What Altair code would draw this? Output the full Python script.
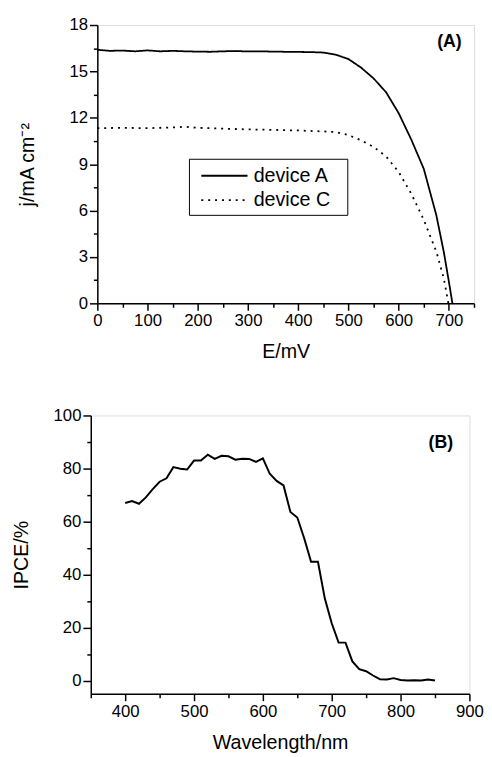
import altair as alt
import pandas as pd

FONT = "Liberation Sans"

# ---------- Panel A data ----------
E_A = [0, 25, 50, 75, 100, 125, 150, 175, 200, 225, 250, 275, 300, 325, 350, 375,
       400, 425, 450, 475, 500, 525, 550, 575, 600, 625, 650, 675, 690, 700, 707]
J_A = [16.40, 16.33, 16.35, 16.30, 16.36, 16.30, 16.33, 16.30, 16.28, 16.27, 16.30,
       16.32, 16.29, 16.30, 16.28, 16.27, 16.26, 16.25, 16.22, 16.08, 15.80, 15.25,
       14.55, 13.65, 12.30, 10.60, 8.70, 5.70, 3.30, 1.40, 0.0]

E_C = [0, 50, 100, 150, 175, 200, 250, 300, 350, 400, 450, 475, 500, 525, 550, 575,
       600, 625, 650, 675, 690, 699]
J_C = [11.33, 11.35, 11.33, 11.38, 11.42, 11.35, 11.30, 11.25, 11.22, 11.18, 11.12,
       11.08, 10.88, 10.55, 10.12, 9.50, 8.50, 7.10, 5.40, 3.35, 1.60, 0.0]

series_names = ["device A", "device C"]

# ---------- Panel B data ----------
wavelength = list(range(400, 851, 10))
ipce = [67.0, 67.7, 66.7, 69.1, 72.2, 75.0, 76.3, 80.5, 79.9, 79.6, 83.0, 83.0, 85.2,
        83.6, 84.8, 84.6, 83.3, 83.7, 83.6, 82.5, 83.8, 78.0, 75.3, 73.6, 63.6, 61.5,
        53.7, 44.8, 44.8, 30.9, 21.6, 14.3, 14.3, 7.2, 4.3, 3.5, 1.9, 0.5, 0.4, 0.9,
        0.2, 0.0, 0.1, 0.0, 0.4, 0.0]

# tick values
xA_ticks = list(range(0, 751, 50))
yA_ticks = [i * 1.5 for i in range(0, 13)]
xB_ticks = list(range(350, 901, 50))
yB_ticks = list(range(0, 101, 10))

panel_labels = ["(A)", "(B)"]

dfA = pd.DataFrame({
    "E": E_A + E_C,
    "j": J_A + J_C,
    "device": [series_names[0]] * len(E_A) + [series_names[1]] * len(E_C),
})
dfB = pd.DataFrame({"wl": wavelength, "ipce": ipce})


def cond_num(test, a, b):
    return {"condition": {"test": test, "value": a}, "value": b}


common_axis = dict(
    grid=False,
    labelFont=FONT, labelFontSize=17,
    titleFont=FONT, titleFontSize=20, titleFontWeight="normal", titleColor="black",
    domainColor="black", domainWidth=1.5, tickColor="black", tickWidth=1.5,
    labelOverlap=False, labelFlush=False,
)

# ---------- Panel A ----------
linesA = alt.Chart(dfA).mark_line(color="black", strokeWidth=1.8).encode(
    x=alt.X("E:Q", scale=alt.Scale(domain=[0, 750], nice=False, zero=False),
            axis=alt.Axis(title="E/mV", values=xA_ticks,
                          tickSize=cond_num("datum.value % 100 === 0", 7, 4),
                          labelExpr="datum.value % 100 === 0 ? datum.label : (datum.value === 750 ? 'r' : '')",
                          labelColor={"condition": {"test": "datum.value === 750", "value": "transparent"}, "value": "black"},
                          labelPadding=3, titlePadding=13, **common_axis)),
    y=alt.Y("j:Q", scale=alt.Scale(domain=[0, 18], nice=False),
            axis=alt.Axis(title="j/mA cm⁻²", values=yA_ticks,
                          tickSize=cond_num("datum.value % 3 === 0", 8, 4),
                          labelExpr="datum.value % 3 === 0 ? datum.label : ''",
                          labelColor="black",
                          labelPadding=2, titlePadding=31.5, **common_axis)),
    strokeDash=alt.StrokeDash(
        "device:N",
        scale=alt.Scale(domain=series_names, range=[[1, 0], [2, 5]]),
        legend=alt.Legend(
            title="ii", titleOrient="right", titleColor="transparent",
            titleFont=FONT, titleFontSize=20, titlePadding=2,
            orient="none", legendX=100, legendY=136,
            labelFont=FONT, labelFontSize=20, labelColor="black",
            symbolType="M-2,0H2", symbolSize=552, symbolStrokeWidth=2,
            symbolOffset=18.8, symbolStrokeColor="black",
            strokeColor="black", fillColor="white",
            padding=4.25, rowPadding=1.8, labelOffset=16.75,
        ),
    ),
    detail="device:N",
)

labelA = alt.Chart(pd.DataFrame({"t": [panel_labels[0]]})).mark_text(
    font=FONT, fontSize=18, fontWeight="bold", color="black"
).encode(text="t:N", x=alt.value(358), y=alt.value(17))

top = alt.layer(linesA, labelA).properties(width=383, height=283)

# ---------- Panel B ----------
lineB = alt.Chart(dfB).mark_line(color="black", strokeWidth=2).encode(
    x=alt.X("wl:Q", scale=alt.Scale(domain=[350, 900], nice=False, zero=False),
            axis=alt.Axis(title="Wavelength/nm", values=xB_ticks,
                          tickSize=cond_num("datum.value % 100 === 0", 7, 4),
                          labelExpr="datum.value % 100 === 0 ? datum.label : ''",
                          labelColor="black",
                          labelPadding=3, titlePadding=14, **common_axis)),
    y=alt.Y("ipce:Q", scale=alt.Scale(domain=[-5, 100], nice=False, zero=False),
            axis=alt.Axis(title="IPCE/%", values=yB_ticks,
                          tickSize=cond_num("datum.value % 20 === 0", 8, 4),
                          labelExpr="datum.value % 20 === 0 ? datum.label : ''",
                          labelColor="black",
                          labelPadding=2, titlePadding=22, **common_axis)),
)

labelB = alt.Chart(pd.DataFrame({"t": [panel_labels[1]]})).mark_text(
    font=FONT, fontSize=18, fontWeight="bold", color="black"
).encode(text="t:N", x=alt.value(356), y=alt.value(28))

bottom = alt.layer(lineB, labelB).properties(width=385, height=283)

chart = alt.vconcat(top, bottom, spacing=44, center=True).properties(
    padding={"left": 3, "top": 1, "right": 0, "bottom": 0}
).configure_view(stroke="black", strokeWidth=1.5).configure(background="white")

chart.save("out.html", embed_options={"renderer": "svg", "actions": False})
